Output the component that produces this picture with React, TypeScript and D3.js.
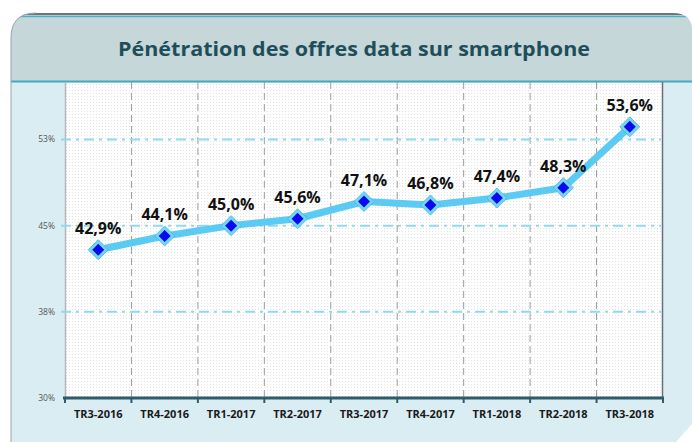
import React from 'react';
import * as d3 from 'd3';

const categories = ['TR3-2016', 'TR4-2016', 'TR1-2017', 'TR2-2017', 'TR3-2017', 'TR4-2017', 'TR1-2018', 'TR2-2018', 'TR3-2018'];
const values = [42.9, 44.1, 45.0, 45.6, 47.1, 46.8, 47.4, 48.3, 53.6];
const yTicks = [30, 37.5, 45, 52.5];
const yTickLabels = ['30%', '38%', '45%', '53%'];
const title = 'Pénétration des offres data sur smartphone';

const W = 692;
const H = 442;
const plot = { left: 65, right: 663, top: 82, bottom: 398 };

const fmt = (v: number) => v.toFixed(1).replace('.', ',') + '%';

export default function App() {
  const x = d3.scaleBand<string>().domain(categories).range([plot.left, plot.right]);
  const y = d3.scaleLinear().domain([30, 57.5]).range([plot.bottom, plot.top]);

  const line = d3.line<number>()
    .x((_, i) => (x(categories[i]) as number) + x.bandwidth() / 2)
    .y(d => y(d));

  const bounds = categories.map(c => x(c) as number).concat([plot.right]);
  const font = "'Open Sans', 'DejaVu Sans', sans-serif";

  return (
    <svg width={W} height={H} style={{ position: 'absolute', left: 0, top: 0 }}>
      <defs>
        <pattern id="dots" width="3" height="3" patternUnits="userSpaceOnUse">
          <rect width="3" height="3" fill="#ffffff" />
          <rect width="1" height="1" fill="#e2e4e6" />
        </pattern>
        <clipPath id="panel">
          <path d="M11,442 L11,38 Q11,13 36,13 L672,13 Q692,13 692,30 L692,424 L676,442 Z" />
        </clipPath>
      </defs>

      {/* outer panel */}
      <g clipPath="url(#panel)">
        <rect x={0} y={0} width={W} height={H} fill="#daedf3" />
        <rect x={0} y={13} width={W} height={69} fill="#c5d7d8" />
        <line x1={0} x2={W} y1={14} y2={14} stroke="#6f7478" strokeWidth={2} />
        <line x1={0} x2={W} y1={16.5} y2={16.5} stroke="#4fb1c6" strokeWidth={1.5} />
        <line x1={0} x2={W} y1={81.5} y2={81.5} stroke="#43a9c1" strokeWidth={2} />
      </g>
      <path d="M11,442 L11,38 Q11,13 36,13" fill="none" stroke="#9aa5aa" strokeWidth={1} />

      <text x={354} y={56} textAnchor="middle" fontFamily={font} fontWeight={700} fontSize={20}
        fill="#1f4e5a" textLength={472} lengthAdjust="spacingAndGlyphs">{title}</text>

      {/* plot area */}
      <rect x={plot.left} y={plot.top + 1} width={plot.right - plot.left} height={plot.bottom - plot.top - 1} fill="url(#dots)" />
      <line x1={plot.left + 0.5} x2={plot.left + 0.5} y1={plot.top} y2={plot.bottom} stroke="#b4b8bb" strokeWidth={1.5} />
      <line x1={plot.right - 0.5} x2={plot.right - 0.5} y1={plot.top} y2={plot.bottom} stroke="#6c7174" strokeWidth={1.5} />

      {/* vertical gridlines */}
      {bounds.slice(1, -1).map((b, i) => (
        <line key={'v' + i} x1={b} x2={b} y1={plot.top} y2={plot.bottom} stroke="#9a9da0" strokeWidth={1} strokeDasharray="7,4" />
      ))}

      {/* horizontal gridlines */}
      {yTicks.slice(1).map((t, i) => (
        <line key={'h' + i} x1={plot.left - 4} x2={plot.right - 2} y1={y(t)} y2={y(t)} stroke="#91d9f0" strokeWidth={2} strokeDasharray="10,5,3,5" />
      ))}

      {/* y tick labels */}
      {yTicks.map((t, i) => (
        <text key={'yt' + i} x={55} y={y(t) + 3} textAnchor="end" fontFamily={font} fontSize={8.5} fill="#555">{yTickLabels[i]}</text>
      ))}

      {/* x axis */}
      <line x1={plot.left - 2} x2={plot.right + 1} y1={plot.bottom} y2={plot.bottom} stroke="#2d5d69" strokeWidth={3} />
      {bounds.map((b, i) => (
        <line key={'xt' + i} x1={b} x2={b} y1={plot.bottom} y2={plot.bottom + 5} stroke="#2d5d69" strokeWidth={2} />
      ))}
      {categories.map(c => (
        <text key={c} x={(x(c) as number) + x.bandwidth() / 2} y={418} textAnchor="middle" fontFamily={font}
          fontWeight={700} fontSize={11} fill="#1a1a1a">{c}</text>
      ))}

      {/* series */}
      <path d={line(values) || ''} fill="none" stroke="#5ccbf4" strokeWidth={7} strokeLinejoin="round" />
      {values.map((v, i) => {
        const cx = (x(categories[i]) as number) + x.bandwidth() / 2;
        const cy = y(v);
        return (
          <g key={'m' + i}>
            <path d={`M${cx},${cy - 10} L${cx + 10},${cy} L${cx},${cy + 10} L${cx - 10},${cy} Z`} fill="#72d7f5" stroke="#4ab3d6" strokeWidth={0.8} />
            <path d={`M${cx},${cy - 6} L${cx + 6},${cy} L${cx},${cy + 6} L${cx - 6},${cy} Z`} fill="#0a0af0" />
            <text x={cx} y={cy - 16} textAnchor="middle" fontFamily={font} fontWeight={700} fontSize={16} fill="#111">{fmt(v)}</text>
          </g>
        );
      })}
    </svg>
  );
}
